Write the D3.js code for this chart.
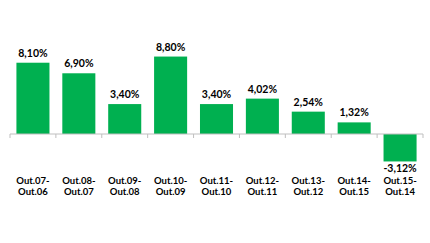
<!DOCTYPE html>
<html><head><meta charset="utf-8">
<script src="https://cdn.jsdelivr.net/npm/d3@7"></script>
<style>html,body{margin:0;padding:0;background:#fff;}svg{display:block;}</style>
</head><body><svg id="c" width="430" height="243"></svg>
<script>
const categories = ["Out.07-|Out.06","Out.08-|Out.07","Out.09-|Out.08","Out.10-|Out.09","Out.11-|Out.10","Out.12-|Out.11","Out.13-|Out.12","Out.14-|Out.15","Out.15-|Out.14"];
const values = [8.10, 6.90, 3.40, 8.80, 3.40, 4.02, 2.54, 1.32, -3.12];
const valueLabels = ["8,10%","6,90%","3,40%","8,80%","3,40%","4,02%","2,54%","1,32%","-3,12%"];

const svg = d3.select("#c");
const font = "Lato, 'Open Sans', sans-serif";
const x = d3.scaleBand().domain(categories).range([10, 423]).paddingInner(0.28).paddingOuter(0.14);
const y = d3.scaleLinear().domain([-4, 10]).range([134 + 4*8.8, 134 - 10*8.8]);
const y0 = y(0);

svg.selectAll("rect.bar").data(values).join("rect")
  .attr("x", (d,i) => x(categories[i]))
  .attr("width", x.bandwidth())
  .attr("y", d => y(Math.max(0, d)))
  .attr("height", d => Math.abs(y(d) - y0))
  .attr("fill", "#00B050");

// axis
const axis = d3.axisBottom(x).tickSize(0).tickFormat("");
const g = svg.append("g").attr("transform", `translate(0,${y0})`).call(axis);
g.select(".domain").attr("stroke", "#bfbfbf").attr("d", `M10,0H423`);
const step = x.step();
const tickPos = d3.range(categories.length + 1).map(i => 10 + i * step);
g.selectAll("line.tk").data(tickPos).join("line").attr("class","tk")
  .attr("x1", d => d).attr("x2", d => d).attr("y1", 0).attr("y2", 4)
  .attr("stroke", "#bfbfbf");

// value labels
svg.selectAll("text.val").data(values).join("text")
  .attr("x", (d,i) => x(categories[i]) + x.bandwidth()/2)
  .attr("y", d => d >= 0 ? y(d) - 6 : y(d) + 11)
  .attr("text-anchor", "middle")
  .attr("font-family", font).attr("font-weight", "bold").attr("font-size", 10.5)
  .attr("fill", "#000")
  .text((d,i) => valueLabels[i]);

// category labels
categories.forEach((c, i) => {
  const lines = c.split("|");
  const cx = x(c) + x.bandwidth()/2;
  const t = svg.append("text").attr("text-anchor","middle")
    .attr("font-family", font).attr("font-weight", "bold").attr("font-size", 9.5).attr("fill","#000");
  lines.forEach((l, j) => t.append("tspan").attr("x", cx).attr("y", 183.5 + j*11).text(l));
});
</script></body></html>
